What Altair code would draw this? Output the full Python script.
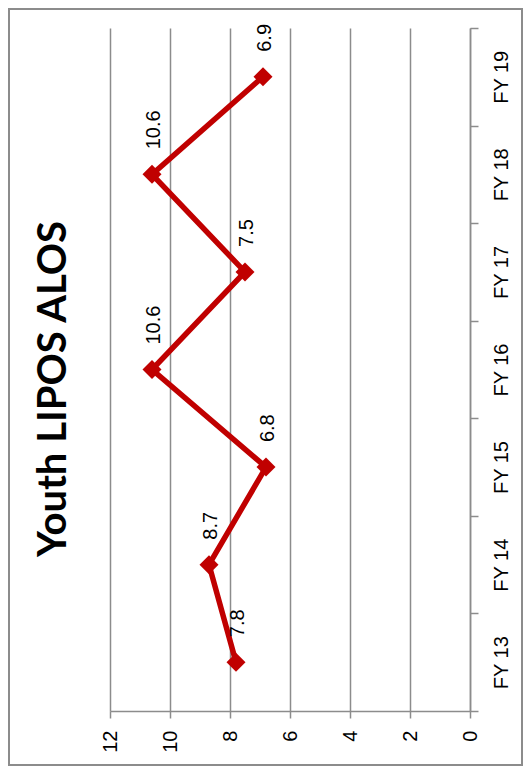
import altair as alt
import pandas as pd

years = ["FY 13", "FY 14", "FY 15", "FY 16", "FY 17", "FY 18", "FY 19"]
values = [7.8, 8.7, 6.8, 10.6, 7.5, 10.6, 6.9]
value_ticks = [0, 2, 4, 6, 8, 10, 12]
title_text = "Youth LIPOS ALOS"

df = pd.DataFrame({"year": years, "value": values, "order": list(range(len(years)))})

GRAY = "#8c8c8c"
RED = "#C00000"
FONT = "Liberation Sans"

x_enc = alt.X(
    "value:Q",
    scale=alt.Scale(domain=[0, 12], reverse=True, nice=False, zero=True),
    axis=alt.Axis(
        values=value_ticks,
        labelAngle=270,
        labelFontSize=20,
        labelFont=FONT,
        labelColor="black",
        labelPadding=12,
        tickSize=7,
        tickColor=GRAY,
        tickWidth=1.5,
        domainColor=GRAY,
        domainWidth=1.5,
        grid=True,
        gridColor=GRAY,
        gridWidth=1.5,
        title=None,
    ),
)
y_enc = alt.Y(
    "year:O",
    sort=years[::-1],
    scale=alt.Scale(type="band", paddingInner=0, paddingOuter=0),
    axis=alt.Axis(
        orient="right",
        labelAngle=270,
        labelAlign="center",
        labelBaseline="top",
        labelFontSize=20,
        labelFont=FONT,
        labelColor="black",
        labelPadding=13,
        tickBand="extent",
        tickSize=8,
        tickColor=GRAY,
        tickWidth=1.5,
        domainColor=GRAY,
        domainWidth=1.5,
        grid=False,
        title=None,
    ),
)

base = alt.Chart(df)
line = base.mark_line(color=RED, strokeWidth=5.5).encode(
    x=x_enc, y=y_enc, order=alt.Order("order:Q")
)
points = base.mark_point(shape="diamond", filled=True, size=360, color=RED, opacity=1).encode(
    x="value:Q", y=alt.Y("year:O", sort=years[::-1])
)
labels = base.mark_text(
    angle=270, align="left", baseline="middle", dx=25, dy=2,
    fontSize=20, font=FONT, color="black"
).encode(
    x="value:Q", y=alt.Y("year:O", sort=years[::-1]), text=alt.Text("value:Q", format=".1f")
)

title = alt.Chart(pd.DataFrame({"t": [title_text]})).mark_text(
    angle=270, align="center", baseline="middle",
    fontSize=40, font="Lato", fontWeight="bold", color="black"
).encode(x=alt.value(-56), y=alt.value(361), text="t:N")

border = alt.Chart(pd.DataFrame({"a": [0]})).mark_rect(
    fill="transparent", stroke=GRAY, strokeWidth=2
).encode(x=alt.value(-101), x2=alt.value(412), y=alt.value(-19), y2=alt.value(737))

chart = alt.layer(border, line, points, labels, title).properties(
    width=360,
    height=683,
    padding={"left": 102, "top": 20, "right": 53, "bottom": 55},
    autosize=alt.AutoSizeParams(type="none"),
).configure_view(stroke="transparent")

chart.save("out.html", embed_options={"renderer": "svg", "actions": False})
